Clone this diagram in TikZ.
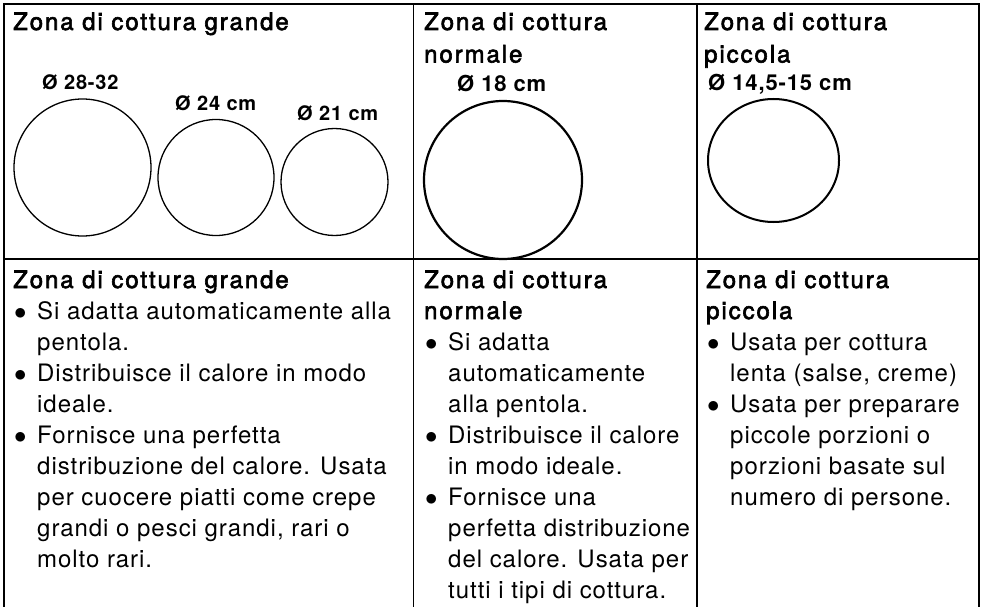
\documentclass[tikz,border=0pt]{standalone}
\usepackage{fontspec}
\setmainfont{TeX Gyre Heros}[LetterSpace=4]
\newfontfamily\hdfont{TeX Gyre Heros}[LetterSpace=8,FakeBold=2.5]
\newcommand{\blt}{\makebox[24pt][l]{\hspace*{1pt}$\bullet$}}
\newcommand{\ind}{\hspace*{24pt}}
\tikzset{%
    grd/.style={line width = 1.6pt},
    thn/.style={line width = 1.3pt},
    thk/.style={line width = 2.2pt},
    hdr/.style={anchor=base west, inner sep=0pt, font=\hdfont\fontsize{24}{32.5}\selectfont},
    lbl/.style={anchor=base west, inner sep=0pt, font=\bfseries\fontsize{20}{24}\selectfont},
    lbb/.style={lbl, font=\bfseries\fontsize{22}{26}\selectfont},
    txt/.style={anchor=base west, inner sep=0pt, font=\fontsize{24}{31}\selectfont}
}

\begin{document}
\begin{tikzpicture}[x=1pt,y=-1pt]
    \useasboundingbox (0,0) rectangle (982,607);
    % table lines
    \draw [grd] (4,607) -- (4,4) -- (979,4) -- (979,607);
    \draw [grd] (4,259) -- (979,259);
    \draw [grd] (413.5,4) -- (413.5,607);
    \draw [grd] (697,4) -- (697,607);
    % top row
    \node [hdr] (h1) at (13,30) {Zona di cottura grande};
    \node [hdr] (h2) at (424,30) {\begin{tabular}[t]{@{}l@{}}Zona di cottura\\normale\end{tabular}};
    \node [hdr] (h3) at (704,30) {\begin{tabular}[t]{@{}l@{}}Zona di cottura\\piccola\end{tabular}};
    \draw [thn] (82.5,167.5) circle [radius=68.5pt];
    \draw [thn] (216,177.5) circle [radius=58pt];
    \draw [thn] (334.5,182) circle [radius=53.5pt];
    \draw [thk] (503,180) circle [radius=79pt];
    \draw [line width=2pt] (773.5,160.5) ellipse [x radius=65.5pt, y radius=61.5pt];
    \node [lbl] (d1) at (42,90) {Ø 28-32};
    \node [lbl] (d2) at (175,111) {Ø 24 cm};
    \node [lbl] (d3) at (297,121) {Ø 21 cm};
    \node [lbb] (d4) at (457,92) {Ø 18 cm};
    \node [lbb] (d5) at (708,91) {Ø 14,5-15 cm};
    % bottom row
    \node [txt] (t1) at (13,288) {\begin{tabular}[t]{@{}l@{}}
        {\hdfont Zona di cottura grande}\\
        \blt Si adatta automaticamente alla\\
        \ind pentola.\\
        \blt Distribuisce il calore in modo\\
        \ind ideale.\\
        \blt Fornisce una perfetta\\
        \ind distribuzione del calore. Usata\\
        \ind per cuocere piatti come crepe\\
        \ind grandi o pesci grandi, rari o\\
        \ind molto rari.
    \end{tabular}};
    \node [txt] (t2) at (424,288) {\begin{tabular}[t]{@{}l@{}}
        {\hdfont Zona di cottura}\\
        {\hdfont normale}\\
        \blt Si adatta\\
        \ind automaticamente\\
        \ind alla pentola.\\
        \blt Distribuisce il calore\\
        \ind in modo ideale.\\
        \blt Fornisce una\\
        \ind perfetta distribuzione\\
        \ind del calore. Usata per\\
        \ind tutti i tipi di cottura.
    \end{tabular}};
    \node [txt] (t3) at (706,288) {\begin{tabular}[t]{@{}l@{}}
        {\hdfont Zona di cottura}\\
        {\hdfont piccola}\\
        \blt Usata per cottura\\
        \ind lenta (salse, creme)\\
        \blt Usata per preparare\\
        \ind piccole porzioni o\\
        \ind porzioni basate sul\\
        \ind numero di persone.
    \end{tabular}};
\end{tikzpicture}
\end{document}
